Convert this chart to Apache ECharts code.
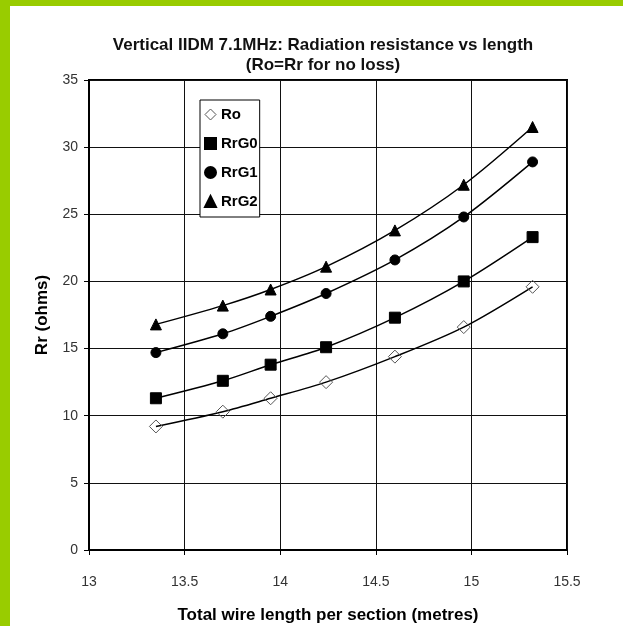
<!DOCTYPE html>
<html>
<head>
<meta charset="utf-8">
<script src="https://cdn.jsdelivr.net/npm/echarts@6/dist/echarts.min.js"></script>
<style>
  html, body { margin: 0; padding: 0; background: #fff; }
  #frame { width: 613px; height: 620px; border-top: 6px solid #99cc00; border-left: 10px solid #99cc00; }
  #chart { width: 613px; height: 620px; }
</style>
</head>
<body>
<div id="frame"><div id="chart"></div></div>
<script>
// wire length per section (metres)
var lengths = [13.35, 13.7, 13.95, 14.24, 14.6, 14.96, 15.32];
var ro   = [9.2, 10.3, 11.3, 12.5, 14.4, 16.6, 19.6];
var rrG0 = [11.3, 12.6, 13.8, 15.1, 17.3, 20.0, 23.3];
var rrG1 = [14.7, 16.1, 17.4, 19.1, 21.6, 24.8, 28.9];
var rrG2 = [16.8, 18.2, 19.4, 21.1, 23.8, 27.2, 31.5];

function pairs(ys) {
  return lengths.map(function (x, i) { return [x, ys[i]]; });
}

var dom = document.getElementById('chart');
var myChart = echarts.init(dom, null, { renderer: 'canvas' });

var font = 'Arial, "Liberation Sans", sans-serif';

function serie(name, ys, symbol, size, fill, border) {
  return {
    name: name,
    type: 'line',
    data: pairs(ys),
    smooth: 0.3,
    symbol: symbol,
    symbolSize: size,
    showAllSymbol: true,
    lineStyle: { color: '#000', width: 1.5 },
    itemStyle: { color: fill, borderColor: border, borderWidth: 1 },
    emphasis: { disabled: true },
    z: 3
  };
}

var option = {
  animation: false,
  title: {
    text: 'Vertical IIDM 7.1MHz: Radiation resistance vs length\n(Ro=Rr for no loss)',
    left: 308,
    textAlign: 'center',
    top: 24,
    textStyle: { fontFamily: font, fontSize: 17, fontWeight: 'bold', color: '#111', lineHeight: 20 }
  },
  legend: {
    orient: 'vertical',
    left: 190,
    top: 94,
    padding: [7, 2, 8, 4],
    itemGap: 14,
    itemWidth: 11,
    itemHeight: 11,
    backgroundColor: '#fff',
    borderColor: '#000',
    borderWidth: 1,
    textStyle: { fontFamily: font, fontSize: 15, fontWeight: 'bold', color: '#000' },
    data: [
      { name: 'Ro', icon: 'diamond', itemStyle: { color: '#fff', borderColor: '#555', borderWidth: 1 } },
      { name: 'RrG0', icon: 'rect' },
      { name: 'RrG1', icon: 'circle' },
      { name: 'RrG2', icon: 'triangle' }
    ]
  },
  grid: {
    left: 79,
    top: 74,
    right: 56,
    bottom: 76,
    outerBoundsMode: 'none',
    show: true,
    borderColor: '#000',
    borderWidth: 2
  },
  xAxis: {
    type: 'value',
    min: 13,
    max: 15.5,
    interval: 0.5,
    name: 'Total wire length per section (metres)',
    nameLocation: 'middle',
    nameGap: 57,
    nameTextStyle: { fontFamily: font, fontSize: 17, fontWeight: 'bold', color: '#000' },
    axisLine: { lineStyle: { color: '#000', width: 2 } },
    axisTick: { show: true, length: 5, lineStyle: { color: '#000' } },
    axisLabel: { fontFamily: font, fontSize: 14, color: '#333', margin: 25 },
    splitLine: { show: true, lineStyle: { color: '#111', width: 1 } }
  },
  yAxis: {
    type: 'value',
    min: 0,
    max: 35,
    interval: 5,
    name: 'Rr (ohms)',
    nameLocation: 'middle',
    nameGap: 38,
    nameTextStyle: { fontFamily: font, fontSize: 17, fontWeight: 'bold', color: '#000' },
    axisLine: { show: true, lineStyle: { color: '#000', width: 2 } },
    axisTick: { show: true, length: 5, lineStyle: { color: '#000' } },
    axisLabel: { fontFamily: font, fontSize: 14, color: '#333', margin: 11 },
    splitLine: { show: true, lineStyle: { color: '#111', width: 1 } }
  },
  series: [
    serie('Ro', ro, 'diamond', 13, 'rgba(255,255,255,0)', '#555'),
    serie('RrG0', rrG0, 'rect', 11, '#000', '#000'),
    serie('RrG1', rrG1, 'circle', 10, '#000', '#000'),
    serie('RrG2', rrG2, 'triangle', 11, '#000', '#000')
  ]
};

if (option && typeof option === 'object') {
  myChart.setOption(option);
}

window.addEventListener('resize', myChart.resize);
</script>
</body>
</html>
